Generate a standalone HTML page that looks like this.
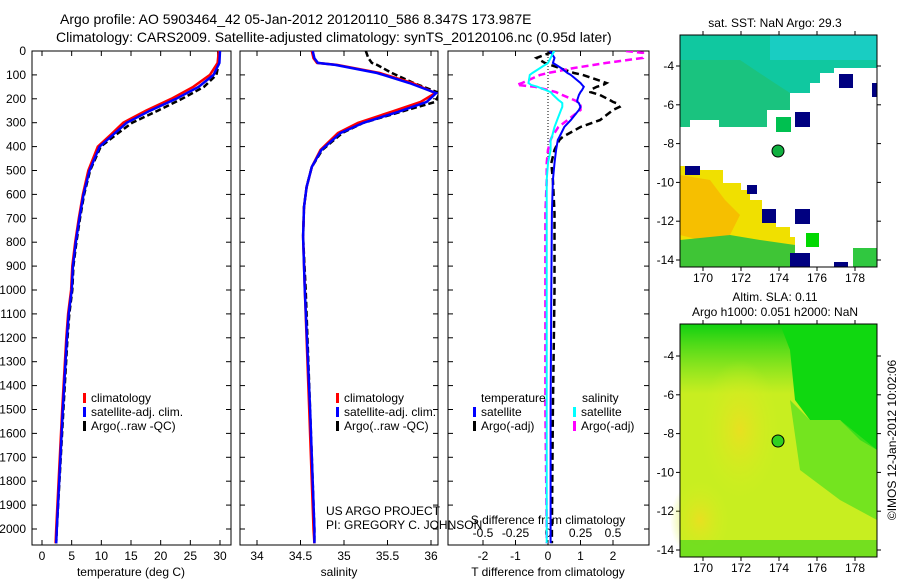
<!DOCTYPE html>
<html><head><meta charset="utf-8"><style>
body{margin:0;background:#fff;}
svg{display:block;font-family:"Liberation Sans",sans-serif;}
</style></head><body>
<svg id="fig" width="900" height="580" viewBox="0 0 900 580" xmlns="http://www.w3.org/2000/svg">
<g fill="#000" font-size="14">
<text x="60" y="24">Argo profile: AO 5903464_42 05-Jan-2012 20120110_586 8.347S 173.987E</text>
<text x="56" y="42">Climatology: CARS2009. Satellite-adjusted climatology: synTS_20120106.nc (0.95d later)</text>
</g>
<g id="plots"></g>
<!-- Map 1 -->
<g>
<text x="775" y="27" font-size="12" text-anchor="middle">sat. SST: NaN Argo: 29.3</text>
<rect x="680" y="35" width="197" height="232" fill="#fff"/>
<polygon fill="#10c8a0" points="680,35 877,35 877,68 834,68 834,73 820,73 820,83 810,83 810,93 790,93 790,110 767,110 767,127 719,127 719,120 690,120 690,127 680,127"/>
<polygon fill="#20c070" opacity="0.7" points="680,60 740,60 770,80 790,93 790,110 767,110 767,127 719,127 719,120 690,120 690,127 680,127"/>
<rect x="770" y="35" width="107" height="25" fill="#20d0d8" opacity="0.6"/>
<polygon fill="#f0e000" points="680,166 700,166 700,170 723,170 723,183 741,183 741,190 750,190 750,200 762,200 762,212 776,212 776,227 790,227 790,237 795,237 795,267 680,267"/>
<polygon fill="#f8b000" opacity="0.7" points="680,175 710,180 725,200 740,215 730,235 700,240 680,235"/>
<polygon fill="#20c040" opacity="0.85" points="680,240 730,235 760,240 795,245 795,267 680,267"/>
<rect x="685" y="166" width="15" height="9" fill="#000080"/>
<rect x="747" y="185" width="10" height="9" fill="#000080"/>
<rect x="762" y="209" width="14" height="14" fill="#000080"/>
<rect x="790" y="253" width="20" height="14" fill="#000080"/>
<rect x="839" y="74" width="14" height="14" fill="#000080"/>
<rect x="872" y="83" width="5" height="14" fill="#000080"/>
<rect x="795" y="112" width="15" height="15" fill="#000080"/>
<rect x="776" y="117" width="15" height="15" fill="#00c050"/>
<rect x="795" y="209" width="15" height="15" fill="#000080"/>
<rect x="806" y="233" width="13" height="14" fill="#00d800"/>
<rect x="834" y="262" width="14" height="5" fill="#000080"/>
<rect x="853" y="248" width="24" height="19" fill="#30c840"/>
<circle cx="778" cy="151" r="6" fill="#10b040" stroke="#000" stroke-width="1"/>
<rect x="680" y="35" width="197" height="232" fill="none" stroke="#000"/>
</g>
<!-- Map 2 -->
<g>
<text x="775" y="301" font-size="12" text-anchor="middle">Altim. SLA: 0.11</text>
<text x="775" y="316" font-size="12" text-anchor="middle">Argo h1000: 0.051 h2000: NaN</text>
<defs>
<radialGradient id="g1" cx="0.5" cy="0.5" r="0.5"><stop offset="0" stop-color="#e8e020"/><stop offset="1" stop-color="#d0f020" stop-opacity="0"/></radialGradient>
<linearGradient id="gt" x1="0" y1="0" x2="0" y2="1"><stop offset="0" stop-color="#10d010"/><stop offset="1" stop-color="#40d820" stop-opacity="0"/></linearGradient>
</defs>
<rect x="680" y="324" width="197" height="233" fill="#c8ee20"/>
<rect x="680" y="324" width="197" height="70" fill="url(#gt)"/>
<polygon fill="#10d810" points="780,324 877,324 877,450 860,440 840,420 810,420 795,400 790,350"/>
<polygon fill="#50e020" opacity="0.7" points="790,400 810,420 840,420 877,450 877,520 840,500 800,470"/>
<ellipse cx="740" cy="430" rx="40" ry="70" fill="url(#g1)"/>
<ellipse cx="700" cy="520" rx="30" ry="40" fill="url(#g1)"/>
<rect x="680" y="540" width="197" height="17" fill="#50d820" opacity="0.7"/>
<circle cx="778" cy="441" r="6" fill="#30d020" stroke="#000" stroke-width="1"/>
<rect x="680" y="324" width="197" height="233" fill="none" stroke="#000"/>
</g>
<text transform="translate(896,440) rotate(-90)" font-size="12" text-anchor="middle">©IMOS 12-Jan-2012 10:02:06</text>
<g font-size="12">
<text x="326" y="515">US ARGO PROJECT</text>
<text x="326" y="529">PI: GREGORY C. JOHNSON</text>
</g>
</svg>
<script>
// ---- data ----
const depthTicks = [0,100,200,300,400,500,600,700,800,900,1000,1100,1200,1300,1400,1500,1600,1700,1800,1900,2000];
const tDepth = [0,50,100,150,200,250,300,350,400,500,600,700,800,900,1000,1100,1200,1500,2000,2060];
const tempClim = [29.8,29.6,28.3,25.5,21.8,17.5,13.7,11.6,9.4,7.8,6.9,6.2,5.6,5.1,4.9,4.4,4.1,3.4,2.4,2.3];
const tempSat  = [30.0,29.9,28.9,26.4,22.6,18.2,14.3,12.0,9.7,8.0,7.0,6.3,5.7,5.2,5.0,4.5,4.2,3.5,2.5,2.4];
const tempArgo = [29.7,29.8,29.4,27.3,23.6,19.5,15.2,12.5,9.9,8.1,7.1,6.4,5.8,5.3,5.1,4.6,4.3,3.6,2.5,2.4];
const sDepth = [0,30,50,58,92,134,176,213,255,301,343,414,485,569,653,778,1000,1500,2000,2060];
const salClim = [34.63,34.65,34.69,34.92,35.41,35.79,36.05,35.88,35.54,35.16,34.93,34.73,34.63,34.57,34.54,34.53,34.55,34.6,34.65,34.66];
const salSat  = [34.64,34.66,34.70,34.90,35.38,35.75,36.06,35.95,35.62,35.22,34.96,34.74,34.63,34.57,34.54,34.53,34.55,34.61,34.66,34.66];
const salArgo = [35.25,35.28,35.32,35.38,35.55,35.80,36.10,36.05,35.65,35.22,34.98,34.75,34.63,34.57,34.54,34.53,34.56,34.61,34.66,34.66];
const dDepth = [0,8,29,50,71,92,100,134,142,150,163,172,184,205,213,218,234,247,289,318,360,372,414,469,540,678,1000,1500,2000,2060];
const tDiffSat  = [0.05,0.1,0.2,0.15,0.4,0.6,0.7,1.0,1.05,1.1,1.05,1.0,0.95,0.9,0.9,0.95,1.0,0.95,0.7,0.5,0.35,0.3,0.25,0.2,0.15,0.12,0.1,0.08,0.08,0.08];
const tDiffArgo = [0.1,0.05,-0.35,-0.1,0.35,0.8,1.07,1.8,1.7,1.5,1.3,1.3,1.6,1.9,2.0,2.1,2.2,2.0,1.6,1.0,0.45,0.35,0.2,0.1,0.15,0.2,0.2,0.15,0.12,0.12];
const sDiffSat  = [0.05,0.04,0.02,0.0,-0.06,-0.12,-0.14,-0.15,-0.13,-0.08,-0.02,0.02,0.04,0.08,0.1,0.11,0.11,0.1,0.07,0.05,0.03,0.02,0.02,0.0,-0.01,-0.01,-0.01,-0.01,-0.01,-0.01];
const sDiffArgo = [0.6,0.73,0.73,0.45,0.2,0.0,-0.06,-0.2,-0.24,-0.1,0.0,0.06,0.11,0.2,0.23,0.25,0.25,0.25,0.15,0.08,0.03,0.02,0.0,-0.01,-0.01,-0.02,-0.02,-0.02,-0.01,-0.01];
const tempTicks = [0,5,10,15,20,25,30];
const salTicks = [34,34.5,35,35.5,36];
const tdTicks = [-2,-1,0,1,2];
const sdTicks = [-0.5,-0.25,0,0.25,0.5];
const lonTicks = [170,172,174,176,178];
const latTicks = [-4,-6,-8,-10,-12,-14];

const NS='http://www.w3.org/2000/svg';
const root=document.getElementById('plots');
function mk(tag,attrs,parent){const e=document.createElementNS(NS,tag);for(const k in attrs)e.setAttribute(k,attrs[k]);(parent||root).appendChild(e);return e;}
const Y0=51,Y1=545,DMAX=2067;
const yD=d=>Y0+d/DMAX*(Y1-Y0);
function lin(d0,d1,p0,p1){return v=>p0+(v-d0)/(d1-d0)*(p1-p0);}
const xT=lin(0,30,42,220), xS=lin(34,36,257,431), xTD=lin(0,1,548,580.5), xSD=lin(0,0.25,548,580.5);

function frame(x0,x1,name){
  const r=mk('rect',{x:x0,y:Y0,width:x1-x0,height:Y1-Y0,fill:'none',stroke:'#000'});
  
  
  depthTicks.forEach(d=>{mk('line',{x1:x0,x2:x0+5,y1:yD(d),y2:yD(d),stroke:'#000'});mk('line',{x1:x1,x2:x1-5,y1:yD(d),y2:yD(d),stroke:'#000'});});
}
function xticks(ticks,fx,y,top,labels){
  ticks.forEach(t=>{const x=fx(t);
    mk('line',{x1:x,x2:x,y1:Y1,y2:Y1-5,stroke:'#000'});
    if(top)mk('line',{x1:x,x2:x,y1:Y0,y2:Y0+5,stroke:'#000'});
    if(labels){const tx=mk('text',{x:x,y:y,'font-size':12,'text-anchor':'middle'});tx.textContent=String(t);
      
      }
  });
}
function line(xs,ds,fx,color,w,dash,name,clip){
  const pts=xs.map((v,i)=>fx(v).toFixed(1)+','+yD(ds[i]).toFixed(1)).join(' ');
  const a={points:pts,fill:'none',stroke:color,'stroke-width':w};
  if(dash)a['stroke-dasharray']=dash;
  if(clip)a['clip-path']=clip;
  const p=mk('polyline',a);
  
  
}
function label(x,y,t,name,anchor){const e=mk('text',{x:x,y:y,'font-size':12,'text-anchor':anchor||'middle'});e.textContent=t;
  
  }
function legend(x,y,color,t,name){mk('rect',{x:x,y:y-9,width:3,height:10,fill:color});const e=mk('text',{x:x+8,y:y,'font-size':12});e.textContent=t;
  
  }

// clip paths
const defs=mk('defs',{});
[['c1',32,231],['c2',240,438],['c3',448,649]].forEach(([id,a,b])=>{const c=mk('clipPath',{id:id},defs);mk('rect',{x:a,y:Y0,width:b-a,height:Y1-Y0},c);});

// panel 1
frame(32,231,'temperature-panel');
depthTicks.forEach(d=>label(26,yD(d)+4,String(d),'y-tick-label','end'));
xticks(tempTicks,xT,560,true,true);
label(131,576,'temperature (deg C)','x-axis-title-temperature');
line(tempArgo,tDepth,xT,'#000',2.5,'6,3','temp-argo-line','url(#c1)');
line(tempClim,tDepth,xT,'#f00',2.5,null,'temp-climatology-line','url(#c1)');
line(tempSat,tDepth,xT,'#00f',2.5,null,'temp-satellite-line','url(#c1)');
legend(83,402,'#f00','climatology','legend-climatology');
legend(83,416,'#00f','satellite-adj. clim.','legend-satellite');
legend(83,430,'#000','Argo(..raw -QC)','legend-argo');

// panel 2
frame(240,438,'salinity-panel');
xticks(salTicks,xS,560,true,true);
label(339,576,'salinity','x-axis-title-salinity');
line(salArgo,sDepth,xS,'#000',2.5,'6,3','sal-argo-line','url(#c2)');
line(salClim,sDepth,xS,'#f00',2.5,null,'sal-climatology-line','url(#c2)');
line(salSat,sDepth,xS,'#00f',2.5,null,'sal-satellite-line','url(#c2)');
legend(336,402,'#f00','climatology','legend-climatology-2');
legend(336,416,'#00f','satellite-adj. clim.','legend-satellite-2');
legend(336,430,'#000','Argo(..raw -QC)','legend-argo-2');

// panel 3
frame(448,649,'difference-panel');
xticks(tdTicks,xTD,560,true,true);
sdTicks.forEach(t=>label(xSD(t),537,String(t),'s-diff-tick-label'));
label(548,524,'S difference from climatology','s-diff-axis-title');
label(548,576,'T difference from climatology','t-diff-axis-title');
mk('line',{x1:548,x2:548,y1:Y0,y2:yD(500),stroke:'#000','stroke-dasharray':'1,2'});
line(tDiffArgo,dDepth,xTD,'#000',2.5,'7,4','tdiff-argo-line','url(#c3)');
line(sDiffArgo,dDepth,xSD,'#f0f',2.5,'7,4','sdiff-argo-line','url(#c3)');
line(tDiffSat,dDepth,xTD,'#00f',2,null,'tdiff-satellite-line','url(#c3)');
line(sDiffSat,dDepth,xSD,'#0ff',2,null,'sdiff-satellite-line','url(#c3)');
label(481,402,'temperature','legend-temperature-header','start');
label(582,402,'salinity','legend-salinity-header','start');
legend(473,416,'#00f','satellite','legend-t-satellite');
legend(473,430,'#000','Argo(-adj)','legend-t-argo');
legend(573,416,'#0ff','satellite','legend-s-satellite');
legend(573,430,'#f0f','Argo(-adj)','legend-s-argo');

// map axes
const xLon=lin(170,178,703,855);
function mapAxes(top,bot,yLat){
  lonTicks.forEach(l=>{const x=xLon(l);mk('line',{x1:x,x2:x,y1:top,y2:top-4,stroke:'#000'});mk('line',{x1:x,x2:x,y1:bot,y2:bot+4,stroke:'#000'});
    label(x,bot+15,String(l),'lon-tick-label');});
  latTicks.forEach(l=>{const y=yLat(l);mk('line',{x1:680,x2:676,y1:y,y2:y,stroke:'#000'});mk('line',{x1:877,x2:881,y1:y,y2:y,stroke:'#000'});
    label(674,y+4,String(l),'lat-tick-label','end');});
}
mapAxes(35,267,lin(-4,-14,66,260));
mapAxes(324,557,lin(-4,-14,356,550));
</script>
</body></html>
